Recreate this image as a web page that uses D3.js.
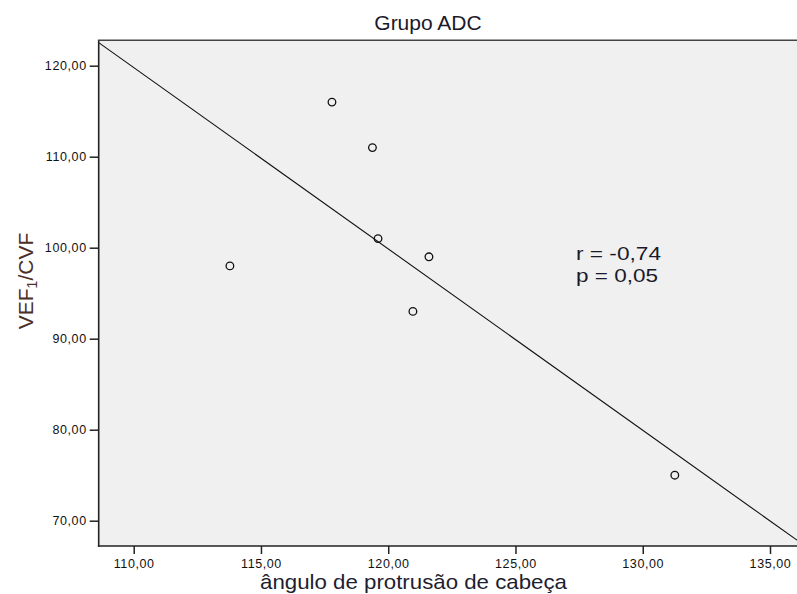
<!DOCTYPE html>
<html>
<head>
<meta charset="utf-8">
<script src="https://cdn.jsdelivr.net/npm/d3@7"></script>
<style>
  html, body { margin: 0; padding: 0; background: #ffffff; }
  svg { display: block; }
  text { font-family: "Liberation Sans", Arial, sans-serif; }
</style>
</head>
<body>
<svg id="chart" width="797" height="594"></svg>
<script>
// ---- data ----
const angle = [117.79, 119.38, 119.60, 121.60, 120.97, 113.78, 131.26];
const vefCvf = [116, 111, 101, 99, 93, 98, 75];
const xTicks = [110, 115, 120, 125, 130, 135];
const yTicks = [70, 80, 90, 100, 110, 120];
const xTickLabels = ["110,00", "115,00", "120,00", "125,00", "130,00", "135,00"];
const yTickLabels = ["70,00", "80,00", "90,00", "100,00", "110,00", "120,00"];
const fitIntercept = [339.03];
const fitSlope = [-1.993];
const statLines = ["r = -0,74", "p = 0,05"];
const titleText = "Grupo ADC";
const xLabel = "ângulo de protrusão de cabeça";

// ---- layout ----
const plot = { left: 98.7, top: 40.3, right: 800, bottom: 546 };
const svg = d3.select("#chart");

const x = d3.scaleLinear().domain([110, 135]).range([133.7, 770]);
const y = d3.scaleLinear().domain([70, 120]).range([520.7, 65.7]);

// plot background
svg.append("rect")
  .attr("x", plot.left).attr("y", plot.top)
  .attr("width", plot.right - plot.left).attr("height", plot.bottom - plot.top)
  .attr("fill", "#f0f0f0");

svg.append("clipPath").attr("id", "clip")
  .append("rect")
  .attr("x", plot.left).attr("y", plot.top)
  .attr("width", plot.right - plot.left).attr("height", plot.bottom - plot.top);

// fit line
const x0 = x.invert(plot.left), x1 = x.invert(797);
const fitPts = [x0, x1].map(v => [v, fitIntercept[0] + fitSlope[0] * v]);
svg.append("path")
  .attr("clip-path", "url(#clip)")
  .attr("d", d3.line().x(d => x(d[0])).y(d => y(d[1]))(fitPts))
  .attr("fill", "none").attr("stroke", "#111").attr("stroke-width", 1.1);

// points
svg.append("g").selectAll("circle")
  .data(angle.map((a, i) => ({ a, v: vefCvf[i] })))
  .join("circle")
  .attr("cx", d => x(d.a)).attr("cy", d => y(d.v))
  .attr("r", 3.8)
  .attr("fill", "none").attr("stroke", "#111").attr("stroke-width", 1.3);

// axes
const xAxis = d3.axisBottom(x).tickValues(xTicks).tickSize(8).tickPadding(5)
  .tickFormat((d, i) => xTickLabels[i]);
const gx = svg.append("g").attr("transform", `translate(0,${plot.bottom})`).call(xAxis);
gx.select(".domain").remove();
gx.selectAll("line").attr("stroke", "#222").attr("stroke-width", 1.5);
gx.selectAll("text").attr("font-size", 12.5).attr("fill", "#111")
  .attr("font-family", "Liberation Sans, Arial, sans-serif").attr("letter-spacing", 0.6);

const yAxis = d3.axisLeft(y).tickValues(yTicks).tickSize(9).tickPadding(3)
  .tickFormat((d, i) => yTickLabels[i]);
const gy = svg.append("g").attr("transform", `translate(${plot.left},0)`).call(yAxis);
gy.select(".domain").remove();
gy.selectAll("line").attr("stroke", "#222").attr("stroke-width", 1.5);
gy.selectAll("text").attr("font-size", 12.5).attr("fill", "#111")
  .attr("font-family", "Liberation Sans, Arial, sans-serif").attr("letter-spacing", 0.6);

// frame lines
svg.append("line").attr("x1", plot.left).attr("x2", plot.left)
  .attr("y1", plot.top).attr("y2", plot.bottom + 0.75)
  .attr("stroke", "#222").attr("stroke-width", 1.6);
svg.append("line").attr("x1", plot.left - 0.8).attr("x2", plot.right)
  .attr("y1", plot.bottom).attr("y2", plot.bottom)
  .attr("stroke", "#222").attr("stroke-width", 1.6);
svg.append("line").attr("x1", plot.left - 0.8).attr("x2", plot.right)
  .attr("y1", plot.top).attr("y2", plot.top)
  .attr("stroke", "#444").attr("stroke-width", 1.6);

// title
svg.append("text").attr("x", 428).attr("y", 30)
  .attr("text-anchor", "middle").attr("font-size", 21).attr("fill", "#1a1a2a")
  .text(titleText);

// x label
svg.append("text").attr("x", 260).attr("y", 589)
  .attr("font-size", 21).attr("fill", "#1e1e30")
  .attr("textLength", 307).attr("lengthAdjust", "spacingAndGlyphs")
  .text(xLabel);

// y label
const yl = svg.append("text")
  .attr("transform", "translate(33,281) rotate(-90)")
  .attr("text-anchor", "middle").attr("font-size", 21).attr("fill", "#4a3028");
yl.append("tspan").text("VEF");
yl.append("tspan").attr("font-size", 14).attr("dy", 4).text("1");
yl.append("tspan").attr("dy", -4).text("/CVF");

// stats
const statWidths = [85, 82];
svg.append("g").selectAll("text")
  .data(statLines).join("text")
  .attr("x", 576).attr("y", (d, i) => 260 + i * 21.5)
  .attr("font-size", 19).attr("fill", "#1a1a2a")
  .attr("textLength", (d, i) => statWidths[i]).attr("lengthAdjust", "spacingAndGlyphs")
  .text(d => d);
</script>
</body>
</html>
